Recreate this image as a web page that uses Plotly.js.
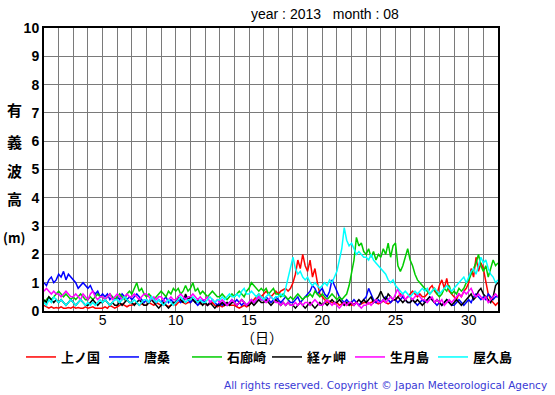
<!DOCTYPE html>
<html><head><meta charset="utf-8">
<script src="https://cdn.plot.ly/plotly-3.0.1.min.js"></script>
<style>html,body{margin:0;padding:0;background:#fff}#c{width:555px;height:395px}</style>
</head><body><div id="c"></div>
<script>
// samples every 4 hours from day 1 00:00, last value at day 32
const stations = ["上ノ国","唐桑","石廊崎","経ヶ岬","生月島","屋久島"];
const colors = ["#ff0000","#0000ff","#00cc00","#000000","#ff00ff","#00ffff"];
const samplesPerDay = 6;

const kaminokuni = [
0.2,0.15,0.1,0.15,0.1,0.12, 0.1,0.15,0.1,0.1,0.12,0.1, 0.15,0.1,0.12,0.1,0.1,0.15, 0.1,0.12,0.15,0.1,0.1,0.12,
0.1,0.15,0.1,0.2,0.15,0.1, 0.15,0.2,0.25,0.2,0.15,0.2, 0.2,0.25,0.3,0.2,0.25,0.2, 0.2,0.3,0.25,0.2,0.3,0.25,
0.2,0.25,0.2,0.15,0.2,0.25, 0.2,0.3,0.35,0.3,0.25,0.3, 0.3,0.4,0.35,0.3,0.25,0.3, 0.25,0.2,0.25,0.3,0.2,0.15,
0.2,0.15,0.2,0.25,0.2,0.2, 0.2,0.15,0.1,0.15,0.2,0.15, 0.2,0.3,0.4,0.5,0.6,0.5, 0.6,0.7,0.6,0.5,0.6,0.7,
0.6,0.7,0.75,0.8,0.7,0.8, 1.0,1.3,1.8,1.5,2.0,1.6, 1.4,1.8,1.2,1.5,1.0,0.6, 0.5,0.4,0.3,0.35,0.3,0.25,
0.3,0.2,0.25,0.3,0.2,0.25, 0.2,0.25,0.3,0.2,0.25,0.3, 0.3,0.25,0.3,0.35,0.3,0.25, 0.3,0.35,0.3,0.25,0.3,0.4,
0.4,0.5,0.6,0.5,0.4,0.5, 0.6,0.7,0.6,0.5,0.6,0.5, 0.5,0.6,0.8,0.9,0.7,0.6, 0.9,1.1,0.8,1.15,0.7,0.6,
0.5,0.4,0.6,0.5,0.7,0.8, 1.0,1.5,1.2,1.9,1.4,1.7, 1.5,1.0,0.6,0.4,0.3,0.2, 0.3];

const karakuwa = [
1.0,0.9,1.1,1.2,1.0,1.1, 1.3,1.2,1.4,1.1,1.3,1.2, 1.1,1.0,0.8,0.9,1.0,0.9, 0.8,0.9,0.7,0.6,0.7,0.5,
0.6,0.5,0.6,0.4,0.5,0.4, 0.5,0.4,0.6,0.5,0.4,0.5, 0.4,0.5,0.6,0.5,0.4,0.3, 0.4,0.3,0.5,0.4,0.3,0.4,
0.3,0.4,0.5,0.3,0.4,0.3, 0.3,0.4,0.3,0.4,0.5,0.4, 0.3,0.4,0.3,0.2,0.3,0.4, 0.3,0.2,0.3,0.4,0.3,0.2,
0.3,0.2,0.3,0.2,0.3,0.4, 0.3,0.4,0.3,0.2,0.3,0.2, 0.3,0.4,0.3,0.4,0.5,0.4, 0.4,0.5,0.4,0.3,0.4,0.5,
0.4,0.3,0.4,0.5,0.4,0.3, 0.3,0.4,0.5,0.3,0.4,0.5, 0.6,0.7,0.9,0.8,0.6,0.7, 0.8,0.6,0.5,0.7,1.1,0.9,
0.7,0.5,0.4,0.3,0.4,0.3, 0.3,0.4,0.3,0.2,0.3,0.4, 0.5,0.8,0.6,0.4,0.3,0.4, 0.3,0.4,0.5,0.4,0.3,0.4,
0.4,0.3,0.4,0.5,0.4,0.3, 0.3,0.4,0.3,0.2,0.3,0.4, 0.3,0.4,0.5,0.4,0.3,0.2, 0.3,0.2,0.3,0.4,0.3,0.2,
0.2,0.3,0.4,0.3,0.2,0.3, 0.4,0.3,0.5,0.6,0.5,0.4, 0.5,0.4,0.6,0.5,0.4,0.5, 0.5];

const irozaki = [
0.3,0.4,0.5,0.4,0.5,0.6, 0.7,0.6,0.5,0.6,0.5,0.4, 0.5,0.4,0.5,0.6,0.5,0.4, 0.4,0.5,0.4,0.5,0.6,0.5,
0.5,0.4,0.5,0.6,0.5,0.4, 0.5,0.6,0.5,0.4,0.6,0.7, 0.6,0.8,1.0,0.7,0.8,0.6, 0.5,0.6,0.5,0.4,0.5,0.6,
0.7,0.6,0.5,0.7,0.6,0.8, 0.7,0.8,0.6,0.7,0.9,0.7, 0.8,1.0,0.7,0.8,0.6,0.7, 0.6,0.5,0.6,0.7,0.6,0.5,
0.5,0.6,0.5,0.4,0.5,0.6, 0.5,0.6,0.7,0.6,0.5,0.7, 0.8,1.0,0.9,0.8,0.7,0.8, 0.7,0.8,0.6,0.7,0.8,0.6,
0.6,0.5,0.6,0.5,0.4,0.5, 0.4,0.5,0.6,0.5,0.4,0.5, 0.5,0.6,0.5,0.7,0.6,0.5, 0.6,0.5,0.4,0.5,0.6,0.5,
0.4,0.5,0.4,0.5,0.6,0.9, 1.3,1.8,2.6,2.3,2.4,2.1, 2.0,2.2,1.9,2.1,1.8,2.0, 1.9,2.2,2.0,2.4,1.9,2.3,
2.4,1.6,1.4,1.6,1.9,2.2, 1.8,1.6,1.3,1.1,1.0,0.9, 0.8,0.7,0.6,0.7,0.8,0.6, 0.5,0.6,0.8,0.7,0.9,0.6,
0.7,0.6,0.8,0.7,0.8,1.0, 1.1,1.3,1.5,1.7,2.0,1.6, 1.4,1.6,1.2,1.5,1.8,1.6, 1.7];

const kyogamisaki = [
0.4,0.3,0.5,0.4,0.3,0.4, 0.3,0.4,0.3,0.2,0.3,0.4, 0.3,0.2,0.3,0.4,0.3,0.2, 0.2,0.3,0.4,0.3,0.2,0.3,
0.3,0.4,0.3,0.2,0.3,0.2, 0.2,0.3,0.2,0.3,0.4,0.3, 0.3,0.2,0.3,0.4,0.3,0.2, 0.2,0.3,0.4,0.3,0.2,0.1,
0.2,0.3,0.2,0.1,0.2,0.3, 0.3,0.5,0.4,0.3,0.6,0.4, 0.5,0.4,0.3,0.4,0.3,0.2, 0.3,0.2,0.3,0.2,0.1,0.2,
0.2,0.3,0.2,0.3,0.2,0.3, 0.3,0.2,0.3,0.4,0.3,0.2, 0.2,0.3,0.2,0.3,0.4,0.3, 0.3,0.4,0.3,0.2,0.3,0.4,
0.3,0.2,0.3,0.2,0.3,0.2, 0.2,0.1,0.2,0.3,0.2,0.1, 0.2,0.3,0.2,0.1,0.2,0.3, 0.2,0.3,0.2,0.3,0.4,0.3,
0.3,0.4,0.3,0.2,0.3,0.2, 0.3,0.2,0.3,0.4,0.3,0.4, 0.3,0.4,0.5,0.3,0.4,0.5, 0.7,0.5,0.4,0.6,0.5,0.4,
0.4,0.5,0.4,0.3,0.4,0.3, 0.3,0.4,0.3,0.4,0.3,0.2, 0.3,0.4,0.5,0.4,0.3,0.4, 0.3,0.2,0.3,0.4,0.3,0.2,
0.3,0.4,0.3,0.2,0.3,0.4, 0.5,0.6,0.4,0.5,0.7,0.8, 0.6,0.5,0.4,0.3,0.5,0.9, 1.0];

const ikitsukishima = [
0.7,0.8,0.7,0.6,0.7,0.6, 0.6,0.5,0.6,0.7,0.6,0.5, 0.5,0.6,0.5,0.4,0.6,0.5, 0.4,0.6,0.7,0.5,0.4,0.5,
0.5,0.4,0.5,0.6,0.4,0.5, 0.6,0.5,0.4,0.5,0.6,0.5, 0.5,0.6,0.5,0.4,0.5,0.6, 0.6,0.5,0.4,0.5,0.4,0.5,
0.5,0.4,0.3,0.4,0.5,0.4, 0.4,0.5,0.6,0.5,0.4,0.5, 0.5,0.6,0.5,0.4,0.5,0.4, 0.4,0.5,0.3,0.4,0.3,0.4,
0.3,0.4,0.3,0.2,0.3,0.4, 0.3,0.2,0.3,0.4,0.3,0.2, 0.3,0.4,0.3,0.4,0.5,0.4, 0.4,0.3,0.4,0.5,0.4,0.3,
0.3,0.2,0.3,0.2,0.3,0.2, 0.2,0.3,0.2,0.3,0.2,0.3, 0.3,0.2,0.3,0.4,0.3,0.2, 0.2,0.3,0.4,0.3,0.2,0.3,
0.2,0.1,0.2,0.3,0.2,0.3, 0.3,0.2,0.3,0.2,0.1,0.2, 0.2,0.3,0.2,0.3,0.4,0.3, 0.3,0.4,0.3,0.4,0.5,0.4,
0.6,0.8,0.5,0.6,0.4,0.5, 0.5,0.4,0.5,0.6,0.5,0.4, 0.4,0.3,0.4,0.5,0.3,0.4, 0.3,0.4,0.2,0.3,0.4,0.3,
0.4,0.5,0.6,0.5,0.7,0.6, 0.7,0.8,0.6,0.5,0.6,0.5, 0.4,0.5,0.3,0.4,0.5,0.6, 0.5];

const yakushima = [
0.3,0.2,0.4,0.3,0.5,0.4, 0.3,0.4,0.3,0.2,0.3,0.4, 0.3,0.2,0.3,0.4,0.3,0.2, 0.3,0.2,0.3,0.2,0.3,0.4,
0.3,0.4,0.3,0.2,0.3,0.4, 0.4,0.3,0.4,0.5,0.4,0.3, 0.3,0.4,0.3,0.2,0.3,0.4, 0.4,0.3,0.5,0.4,0.3,0.4,
0.3,0.2,0.3,0.4,0.3,0.2, 0.3,0.4,0.5,0.4,0.3,0.4, 0.4,0.5,0.4,0.3,0.4,0.3, 0.3,0.4,0.5,0.4,0.3,0.4,
0.4,0.5,0.4,0.5,0.6,0.5, 0.5,0.6,0.5,0.7,0.8,0.6, 0.6,0.7,0.6,0.5,0.6,0.5, 0.4,0.5,0.6,0.5,0.4,0.5,
0.5,0.6,0.5,0.8,1.2,1.6, 1.9,1.5,1.3,1.4,1.2,1.1, 1.2,1.0,0.9,1.0,0.9,0.8, 0.9,1.0,0.9,1.1,1.0,1.2,
1.4,1.8,2.2,2.95,2.5,2.3, 2.4,2.2,2.0,2.1,2.0,1.9, 1.9,1.8,2.0,1.8,1.7,1.6, 1.5,1.4,1.3,1.1,1.0,1.1,
0.9,0.8,0.7,0.6,0.7,0.6, 0.5,0.6,0.7,0.6,0.7,0.8, 0.7,0.8,0.6,0.7,0.8,0.7, 0.6,0.7,0.8,0.9,0.8,0.7,
0.8,0.9,1.0,1.1,1.2,1.0, 1.2,1.4,1.5,1.3,1.6,1.9, 1.7,1.8,1.5,1.3,1.2,1.0, 1.1];

const series = [kaminokuni, karakuwa, irozaki, kyogamisaki, ikitsukishima, yakushima];
const dayTicks = [];
const dayLabels = [];
for (let d = 1; d <= 32; d++) { dayTicks.push(d); dayLabels.push(d % 5 === 0 ? String(d) : ""); }
const yTicks = [0,1,2,3,4,5,6,7,8,9,10];
const yTitleChars = ["有","義","波","高","(m)"];

const traces = series.map((vals, k) => ({
  type: "scatter", mode: "lines", name: stations[k],
  legend: k < 3 ? "legend" : "legend2",
  x: vals.map((v, i) => 1 + i / samplesPerDay), y: vals,
  line: {color: colors[k], width: 1.5}
}));

const plotTop = 28, plotBottom = 311, plotH = plotBottom - plotTop;
const yPix = [110, 141, 170, 198, 238];
const annotations = yTitleChars.map((c, i) => ({
  text: c, xref: "paper", yref: "paper", x: (14 - 44) / 454, y: (plotBottom - yPix[i]) / plotH,
  xanchor: "center", yanchor: "middle", showarrow: false,
  font: {family: "Noto Sans CJK JP", size: i === 4 ? 13 : 15, color: "#000", weight: "bold"}
}));
annotations.push({
  text: "year : 2013\u00a0\u00a0\u00a0month : 08", xref: "paper", yref: "paper",
  x: (325 - 44) / 454, y: (plotBottom - 14) / plotH, xanchor: "center", yanchor: "middle",
  showarrow: false, font: {family: "Liberation Sans", size: 14, color: "#000"}
});
annotations.push({
  text: "（日）", xref: "paper", yref: "paper",
  x: (262 - 44) / 454, y: (plotBottom - 337) / plotH, xanchor: "center", yanchor: "middle",
  showarrow: false, font: {family: "Noto Sans CJK JP", size: 14, color: "#000"}
});
annotations.push({
  text: "All rights reserved. Copyright © Japan Meteorological Agency", xref: "paper", yref: "paper",
  x: (549 - 44) / 454, y: (plotBottom - 385) / plotH, xanchor: "right", yanchor: "middle",
  showarrow: false, font: {family: "DejaVu Sans", size: 10.5, color: "#3a3ad6"}
});

const legendBase = {orientation: "h", xref: "container", xanchor: "left",
  yref: "container", y: (395 - 357) / 395, yanchor: "middle",
  entrywidth: 38, entrywidthmode: "pixels", itemwidth: 30,
  font: {family: "Noto Sans CJK JP", size: 13, color: "#000", weight: "bold"}, bgcolor: "rgba(0,0,0,0)"};

const layout = {
  width: 555, height: 395, margin: {l: 44, r: 57, t: 28, b: 84},
  paper_bgcolor: "#fff", plot_bgcolor: "#fff", showlegend: true,
  xaxis: {range: [1, 32], tickvals: dayTicks, ticktext: dayLabels, showgrid: true,
    gridcolor: "#7a7a7a", gridwidth: 1, showline: true, linecolor: "#000", linewidth: 2, mirror: true,
    ticks: "", ticklen: 0, ticklabelstandoff: -5, zeroline: false,
    tickfont: {family: "Liberation Sans", size: 14, color: "#000"}},
  yaxis: {range: [0, 10], tickvals: yTicks, showgrid: true, gridcolor: "#7a7a7a", gridwidth: 1,
    showline: true, linecolor: "#000", linewidth: 2, mirror: true, ticks: "", ticklen: 0, zeroline: false,
    tickfont: {family: "Liberation Sans", size: 14, color: "#000", weight: "bold"}},
  legend: Object.assign({}, legendBase, {x: 21 / 555}),
  legend2: Object.assign({}, legendBase, {x: 267 / 555}),
  annotations: annotations
};
Plotly.newPlot("c", traces, layout, {staticPlot: true});
</script></body></html>
